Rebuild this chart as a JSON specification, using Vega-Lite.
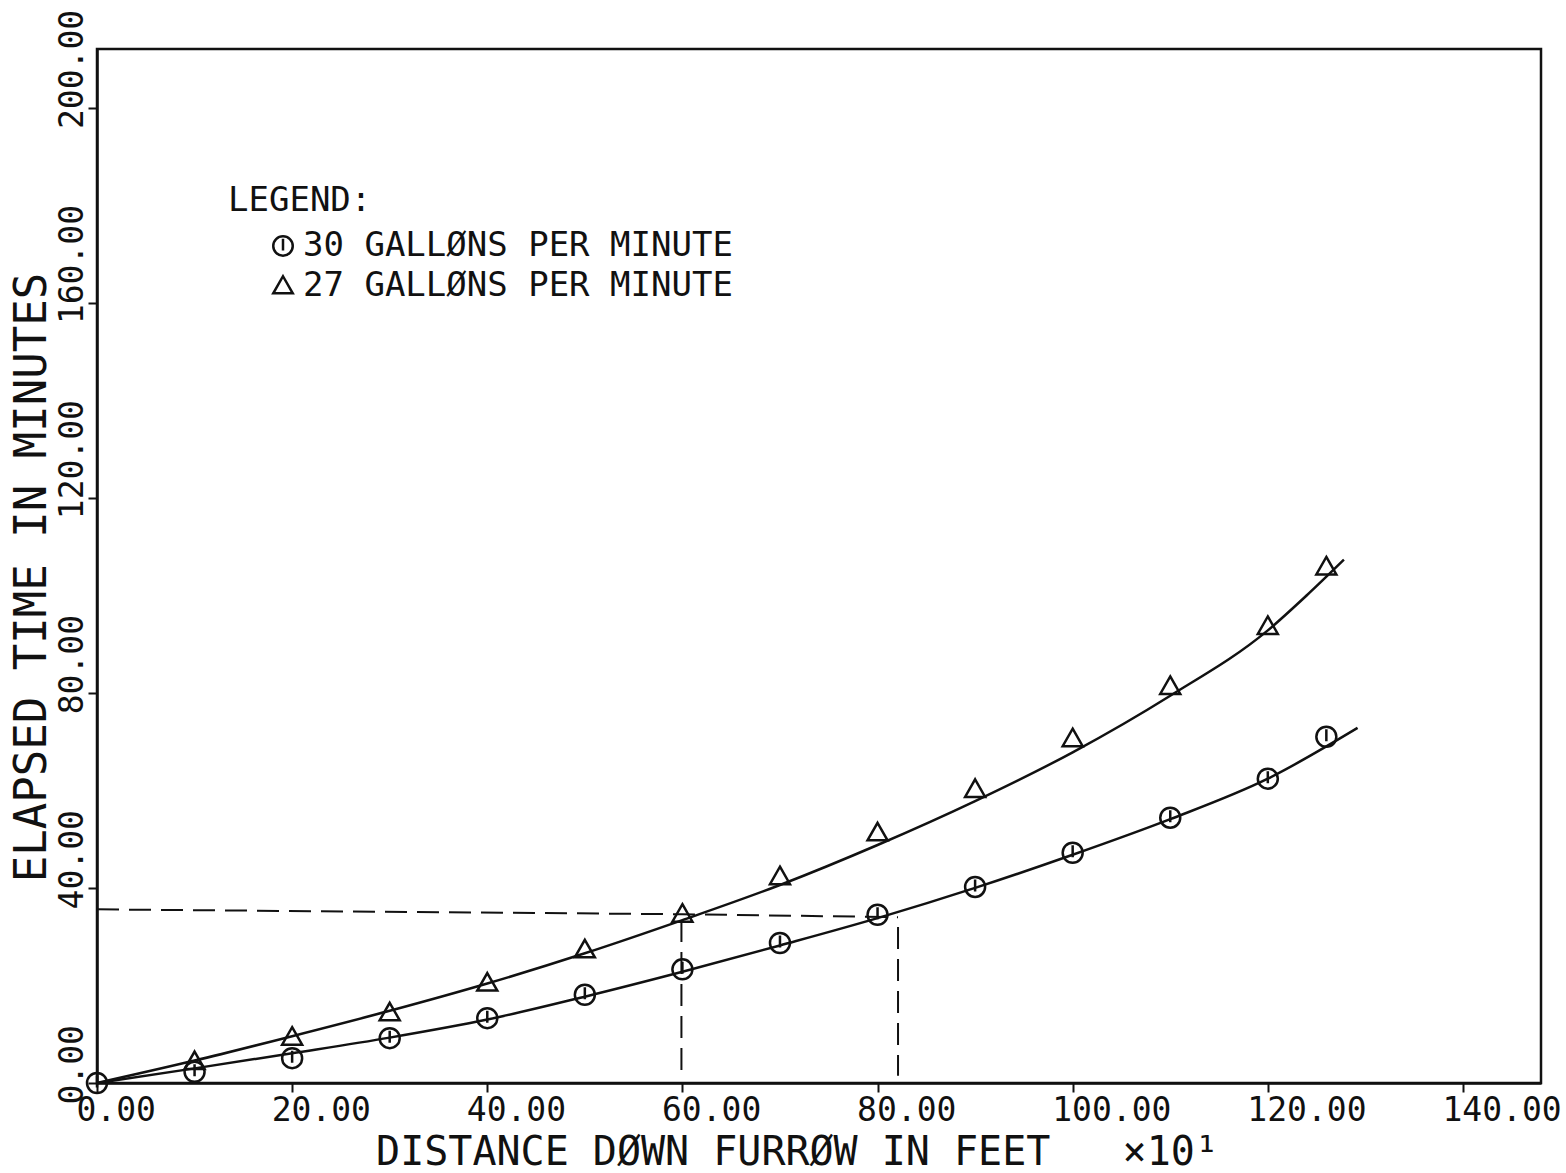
{
  "$schema": "https://vega.github.io/schema/vega-lite/v6.json",
  "width": 1444,
  "height": 1034,
  "autosize": {"type": "none"},
  "padding": {"left": 97, "top": 49, "right": 25, "bottom": 90},
  "background": "white",
  "config": {
    "view": {"stroke": "#111", "strokeWidth": 2.5},
    "font": "DejaVu Sans Mono"
  },
  "datasets": {
    "points": [
      {"series": "30 GALLØNS PER MINUTE", "x": 0, "y": 0},
      {"series": "30 GALLØNS PER MINUTE", "x": 10, "y": 2.3},
      {"series": "30 GALLØNS PER MINUTE", "x": 20, "y": 5.1},
      {"series": "30 GALLØNS PER MINUTE", "x": 30, "y": 9.2},
      {"series": "30 GALLØNS PER MINUTE", "x": 40, "y": 13.3},
      {"series": "30 GALLØNS PER MINUTE", "x": 50, "y": 18.1},
      {"series": "30 GALLØNS PER MINUTE", "x": 60, "y": 23.3},
      {"series": "30 GALLØNS PER MINUTE", "x": 70, "y": 28.7},
      {"series": "30 GALLØNS PER MINUTE", "x": 80, "y": 34.5},
      {"series": "30 GALLØNS PER MINUTE", "x": 90, "y": 40.2},
      {"series": "30 GALLØNS PER MINUTE", "x": 100, "y": 47.2},
      {"series": "30 GALLØNS PER MINUTE", "x": 110, "y": 54.4},
      {"series": "30 GALLØNS PER MINUTE", "x": 120, "y": 62.4},
      {"series": "30 GALLØNS PER MINUTE", "x": 126, "y": 71.0},
      {"series": "27 GALLØNS PER MINUTE", "x": 10, "y": 4.4},
      {"series": "27 GALLØNS PER MINUTE", "x": 20, "y": 9.4},
      {"series": "27 GALLØNS PER MINUTE", "x": 30, "y": 14.4},
      {"series": "27 GALLØNS PER MINUTE", "x": 40, "y": 20.5},
      {"series": "27 GALLØNS PER MINUTE", "x": 50, "y": 27.3},
      {"series": "27 GALLØNS PER MINUTE", "x": 60, "y": 34.6},
      {"series": "27 GALLØNS PER MINUTE", "x": 70, "y": 42.3},
      {"series": "27 GALLØNS PER MINUTE", "x": 80, "y": 51.3},
      {"series": "27 GALLØNS PER MINUTE", "x": 90, "y": 60.2},
      {"series": "27 GALLØNS PER MINUTE", "x": 100, "y": 70.6},
      {"series": "27 GALLØNS PER MINUTE", "x": 110, "y": 81.3},
      {"series": "27 GALLØNS PER MINUTE", "x": 120, "y": 93.6},
      {"series": "27 GALLØNS PER MINUTE", "x": 126, "y": 105.8}
    ],
    "curves": [
      {"curve": "30", "x": 0, "y": 0},
      {"curve": "30", "x": 10, "y": 3.0},
      {"curve": "30", "x": 20, "y": 6.1},
      {"curve": "30", "x": 30, "y": 9.3},
      {"curve": "30", "x": 40, "y": 13.0},
      {"curve": "30", "x": 50, "y": 17.7},
      {"curve": "30", "x": 60, "y": 22.8},
      {"curve": "30", "x": 70, "y": 28.2},
      {"curve": "30", "x": 80, "y": 33.8},
      {"curve": "30", "x": 90, "y": 40.0},
      {"curve": "30", "x": 100, "y": 46.8},
      {"curve": "30", "x": 110, "y": 54.1},
      {"curve": "30", "x": 120, "y": 62.4},
      {"curve": "30", "x": 129.2, "y": 72.8},
      {"curve": "27", "x": 0, "y": 0},
      {"curve": "27", "x": 10, "y": 4.6},
      {"curve": "27", "x": 20, "y": 9.6},
      {"curve": "27", "x": 30, "y": 14.8},
      {"curve": "27", "x": 40, "y": 20.4},
      {"curve": "27", "x": 50, "y": 26.6},
      {"curve": "27", "x": 60, "y": 33.4},
      {"curve": "27", "x": 70, "y": 40.6},
      {"curve": "27", "x": 80, "y": 48.8},
      {"curve": "27", "x": 90, "y": 57.8},
      {"curve": "27", "x": 100, "y": 67.8},
      {"curve": "27", "x": 110, "y": 79.4},
      {"curve": "27", "x": 120, "y": 92.8},
      {"curve": "27", "x": 124, "y": 100.0},
      {"curve": "27", "x": 127.8, "y": 107.3}
    ],
    "dashes": [
      {"seg": "h", "order": 1, "x": 0, "y": 35.6},
      {"seg": "h", "order": 2, "x": 60, "y": 34.6},
      {"seg": "h", "order": 3, "x": 82.1, "y": 34.0},
      {"seg": "v1", "order": 1, "x": 59.9, "y": 33.4},
      {"seg": "v1", "order": 2, "x": 59.9, "y": 1.5},
      {"seg": "v2", "order": 1, "x": 82.1, "y": 32.0},
      {"seg": "v2", "order": 2, "x": 82.1, "y": 1.5}
    ]
  },
  "encoding": {
    "x": {
      "field": "x",
      "type": "quantitative",
      "scale": {"domain": [0, 148], "nice": false, "zero": false},
      "axis": {
        "values": [0, 20, 40, 60, 80, 100, 120, 140],
        "format": ".2f",
        "grid": false,
        "labelFont": "DejaVu Sans Mono",
        "labelFontSize": 33,
        "labelColor": "#111",
        "labelAlign": "left",
        "labelBaseline": "alphabetic",
        "labelOffset": -21,
        "labelPadding": 28,
        "labelFlush": false,
        "labelOverlap": false,
        "labelBound": false,
        "tickSize": 9,
        "tickWidth": 2,
        "tickColor": "#111",
        "domainColor": "#111",
        "domainWidth": 2.5,
        "title": "DISTANCE DØWN FURRØW IN FEET\u00a0\u00a0\u00a0×10¹",
        "titleFont": "DejaVu Sans Mono",
        "titleFontSize": 40,
        "titleFontWeight": "normal",
        "titleColor": "#111",
        "titleX": 700,
        "titleY": 81,
        "titleAlign": "center",
        "titleBaseline": "alphabetic"
      }
    },
    "y": {
      "field": "y",
      "type": "quantitative",
      "scale": {"domain": [0, 212], "nice": false, "zero": false},
      "axis": {
        "values": [0, 40, 80, 120, 160, 200],
        "format": ".2f",
        "grid": false,
        "labelFont": "DejaVu Sans Mono",
        "labelFontSize": 33,
        "labelColor": "#111",
        "labelAngle": 270,
        "labelAlign": "left",
        "labelBaseline": "alphabetic",
        "labelOffset": 21,
        "labelPadding": 6,
        "labelFlush": false,
        "labelOverlap": false,
        "labelBound": false,
        "tickSize": 9,
        "tickWidth": 2,
        "tickColor": "#111",
        "domainColor": "#111",
        "domainWidth": 2.5,
        "title": "ELAPSED TIME IN MINUTES",
        "titleFont": "DejaVu Sans Mono",
        "titleFontSize": 44,
        "titleFontWeight": "normal",
        "titleColor": "#111",
        "titleAngle": 270,
        "titleX": -52,
        "titleY": 528,
        "titleAlign": "center",
        "titleBaseline": "alphabetic"
      }
    }
  },
  "layer": [
    {
      "data": {"name": "curves"},
      "mark": {"type": "line", "color": "#111", "strokeWidth": 2.5, "interpolate": "monotone"},
      "encoding": {"detail": {"field": "curve", "type": "nominal"}}
    },
    {
      "data": {"name": "dashes"},
      "mark": {"type": "line", "color": "#111", "strokeWidth": 2, "strokeDash": [22, 10]},
      "encoding": {
        "detail": {"field": "seg", "type": "nominal"},
        "order": {"field": "order", "type": "quantitative"}
      }
    },
    {
      "data": {"name": "points"},
      "mark": {"type": "point", "filled": false, "stroke": "#111", "strokeWidth": 2.5, "size": 400, "opacity": 1},
      "encoding": {
        "shape": {
          "field": "series",
          "type": "nominal",
          "scale": {
            "domain": ["30 GALLØNS PER MINUTE", "27 GALLØNS PER MINUTE"],
            "range": ["M0,-1A1,1,0,1,1,0,1A1,1,0,1,1,0,-1ZM0,-0.75L0,0.45", "M0,-1L1,0.75L-1,0.75Z"]
          },
          "legend": {
            "orient": "none",
            "legendX": 131,
            "legendY": 135,
            "padding": 0,
            "title": "LEGEND:",
            "titleFont": "DejaVu Sans Mono",
            "titleFontSize": 34,
            "titleFontWeight": "normal",
            "titleColor": "#111",
            "titleAnchor": "start",
            "titleBaseline": "top",
            "titlePadding": 11,
            "titleLimit": 800,
            "labelFont": "DejaVu Sans Mono",
            "labelFontSize": 34,
            "labelColor": "#111",
            "labelLimit": 800,
            "labelOffset": 3,
            "symbolOffset": 38,
            "symbolSize": 380,
            "symbolStrokeWidth": 2.5,
            "symbolStrokeColor": "#111",
            "symbolFillColor": "transparent",
            "rowPadding": 6
          }
        }
      }
    }
  ]
}
